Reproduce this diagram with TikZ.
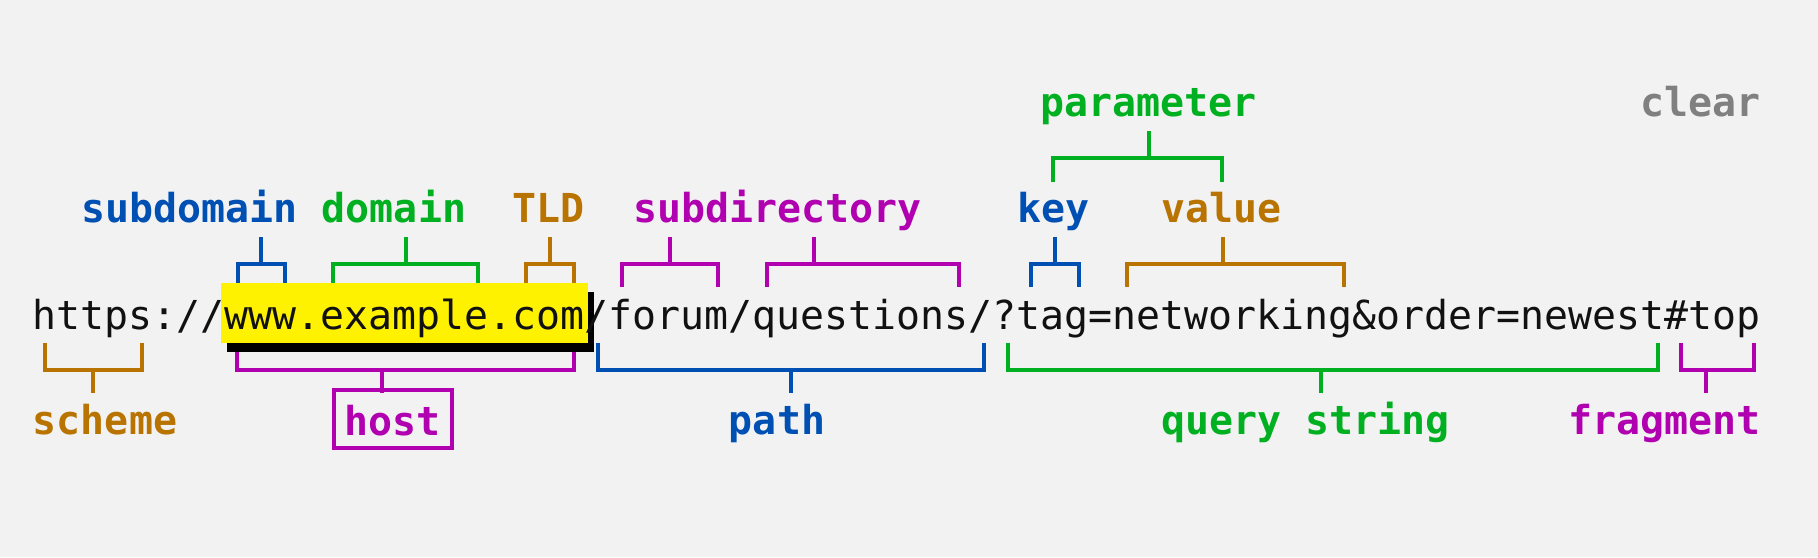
\documentclass[tikz,border=0pt]{standalone}
\usepackage{fontspec}
\newfontfamily\monofont{DejaVu Sans Mono}
\definecolor{bg}{HTML}{F2F2F2}
\definecolor{cblue}{HTML}{0050B4}
\definecolor{cgreen}{HTML}{00B020}
\definecolor{corange}{HTML}{B87300}
\definecolor{cmag}{HTML}{B000B0}
\definecolor{cgray}{HTML}{808080}
\definecolor{ctext}{HTML}{111111}
\newcommand\UrlTopBr[4]{\draw[brk,#1] (#2,287) -- (#2,264.3) -- (#3,264.3) -- (#3,287) (#4,264.3) -- (#4,236.7);}
\newcommand\UrlBotBr[4]{\draw[brk,#1] (#2,343) -- (#2,370) -- (#3,370) -- (#3,343) (#4,370) -- (#4,392.7);}
\begin{document}
\begin{tikzpicture}[x=1pt,y=-1pt,
  lbl/.style={font=\monofont\bfseries\fontsize{39.9}{48}\selectfont, inner sep=0pt, anchor=base},
  brk/.style={line width=4pt, line join=miter},
]
\fill[bg] (0,0) rectangle (1818,557);
\useasboundingbox (0,0) rectangle (1818,557);

% top row
\node[lbl,text=cgreen] (parameter) at (1148.8,116.7) {parameter};
\node[lbl,text=cgray] (clear) at (1700.5,116.7) {clear};

% middle row labels
\node[lbl,text=cblue] (subdomain) at (189.2,222.5) {subdomain};
\node[lbl,text=cgreen] (domain) at (394,222.5) {domain};
\node[lbl,text=corange] (tld) at (548.3,222.5) {TLD};
\node[lbl,text=cmag] (subdirectory) at (777.5,222.5) {subdirectory};
\node[lbl,text=cblue] (key) at (1053.7,222.5) {key};
\node[lbl,text=corange] (value) at (1221.3,222.5) {value};

% parameter bracket
\draw[brk,cgreen] (1053.3,181.7) -- (1053.3,158.3) -- (1221.7,158.3) -- (1221.7,181.7)
  (1149.3,158.3) -- (1149.3,130.7);

% top brackets
\UrlTopBr{cblue}{237.7}{285}{261.3}
\UrlTopBr{cgreen}{333.3}{477.7}{406}
\UrlTopBr{corange}{526}{574}{550}
\UrlTopBr{cmag}{622.3}{718.3}{670}
\UrlTopBr{cmag}{766.7}{958.8}{814.3}
\UrlTopBr{cblue}{1031}{1079.3}{1055}
\UrlTopBr{corange}{1127.3}{1344}{1223.3}

% bottom brackets
\UrlBotBr{corange}{45}{141.7}{93.3}
\UrlBotBr{cmag}{236.7}{574.3}{382.3}
\UrlBotBr{cblue}{598.3}{984.3}{790.7}
\UrlBotBr{cgreen}{1007.7}{1658}{1320.7}
\UrlBotBr{cmag}{1681.3}{1754}{1706.3}

% highlight with shadow
\fill[black] (226.7,291.7) rectangle (594,351.7);
\fill[yellow] (221,283.3) rectangle (588.3,343.3);

% URL
\node[anchor=base west, inner sep=0pt, font=\monofont\fontsize{39.87}{48}\selectfont, text=ctext] (url)
  at (32,329.3) {https://www.example.com/forum/questions/?tag=networking\&order=newest\#top};

% bottom labels
\node[lbl,text=corange] (scheme) at (105,434) {scheme};
\node[draw=cmag, line width=4pt, minimum width=117.4pt, minimum height=58.3pt, inner sep=0pt] (hostbox) at (393,419.2) {};
\node[lbl,text=cmag] (host) at (392.5,435) {host};
\node[lbl,text=cblue] (path) at (777,434) {path};
\node[lbl,text=cgreen] (query) at (1305.6,434) {query string};
\node[lbl,text=cmag] (fragment) at (1664.7,434) {fragment};
\end{tikzpicture}
\end{document}
